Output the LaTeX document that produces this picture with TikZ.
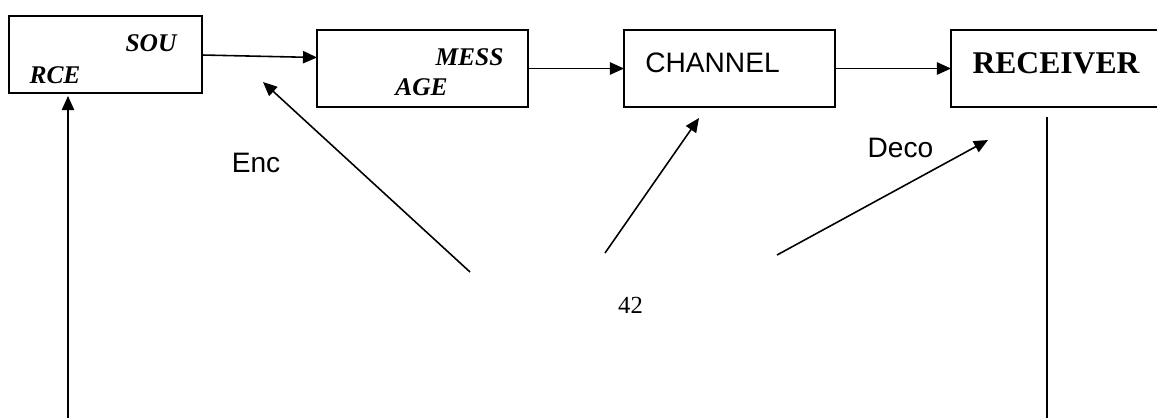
\documentclass[tikz,border=0pt]{standalone}
\usepackage{fontspec}
\setmainfont{Liberation Serif}
\setsansfont{Liberation Sans}
\usetikzlibrary{arrows.meta}
\def\blocklinewidth{1.1pt}
\def\arrowlinewidth{0.9pt}
\def\blockheight{1.54cm}
\def\blockwidth{4.22cm}

\begin{document}
\begin{tikzpicture}[x=0.02cm,y=-0.02cm,
        block/.style={draw,line width=\blocklinewidth,minimum height=\blockheight,minimum width=\blockwidth,inner sep=0,outer sep=0},
        arr/.style={line width=\arrowlinewidth,-{Triangle[length=8pt,width=7pt]}},
        plainline/.style={line width=\arrowlinewidth},
        itlabel/.style={inner sep=0,font=\fontsize{14.5pt}{17pt}\selectfont\bfseries\itshape},
        bflabel/.style={inner sep=0,font=\fontsize{18pt}{21pt}\selectfont\bfseries},
        sflabel/.style={inner sep=0,font=\fontsize{16pt}{19pt}\selectfont\sffamily}]
    \useasboundingbox (0,0) rectangle (1157,417);
    \clip (0,0) rectangle (1157,417);
    % the four blocks
    \node[block,minimum width=3.86cm] (source) at (105.5,54.5) {};
    \node[block] (message) at (422.5,68.5) {};
    \node[block] (channel) at (729.5,68.5) {};
    \node[block] (receiver) at (1056.5,68.5) {};
    % block texts
    \node[itlabel] (sou) at (151,43) {SOU};
    \node[itlabel] (rce) at (55,75) {RCE};
    \node[itlabel] (mess) at (469.5,57) {MESS};
    \node[itlabel] (age) at (421.5,87) {AGE};
    \node[sflabel] (chan) at (712.5,63) {CHANNEL};
    \node[bflabel] (recv) at (1056,63) {RECEIVER};
    % the chain
    \draw[arr] ([yshift=-0.01cm]source.east) -- ([yshift=0.22cm]message.west);
    \draw[arr] (message.east) -- (channel.west);
    \draw[arr] (channel.east) -- (receiver.west);
    % loose ends
    \coordinate (enctail) at (470,272);
    \coordinate (enctip) at (263,82);
    \coordinate (chantail) at (605,253);
    \coordinate (chantip) at (699,118);
    \coordinate (decotail) at (777,255);
    \coordinate (decotip) at (988,140);
    \coordinate (fbstart) at (68,425);
    \coordinate (fbend) at (68,96);
    \coordinate (rxtop) at (1047,117);
    \coordinate (rxbottom) at (1047,425);
    \draw[arr] (enctail) -- (enctip);
    \draw[arr] (chantail) -- (chantip);
    \draw[arr] (decotail) -- (decotip);
    \draw[arr] (fbstart) -- (fbend);
    \draw[plainline] (rxtop) -- (rxbottom);
    % side labels
    \node[sflabel] (enc) at (256,163) {Enc};
    \node[sflabel] (deco) at (900.5,148) {Deco};
    \node[inner sep=0,font=\fontsize{14pt}{16pt}\selectfont] (pagenum) at (630.5,305) {42};
\end{tikzpicture}
\end{document}
